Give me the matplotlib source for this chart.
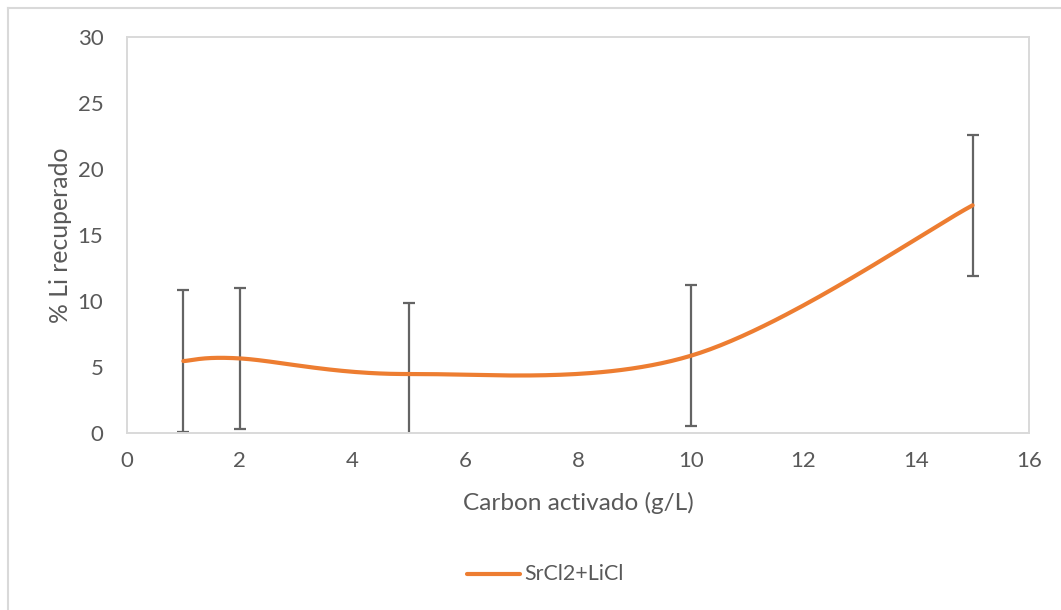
import numpy as np
import matplotlib
matplotlib.use("Agg")
import matplotlib.pyplot as plt
from matplotlib.lines import Line2D

# Data
carbon = [1, 2, 5, 10, 15]
li_recovered = [5.45, 5.65, 4.47, 5.85, 17.25]
error = [5.35, 5.35, 5.35, 5.35, 5.35]
series_name = "SrCl2+LiCl"
x_ticks = [0, 2, 4, 6, 8, 10, 12, 14, 16]
y_ticks = [0, 5, 10, 15, 20, 25, 30]

plt.rcParams['font.family'] = ['Lato', 'DejaVu Sans']
TXT = '#595959'
W, H = 1061, 610
fig = plt.figure(figsize=(W / 100, H / 100), dpi=100)
ax = fig.add_axes([127 / W, 1 - 433 / H, (1029 - 127) / W, (433 - 37) / H])


def excel_smooth(xs, ys, n=60):
    P = np.column_stack([xs, ys]).astype(float)
    P = np.vstack([P[0], P, P[-1]])
    out = []
    for i in range(1, len(P) - 2):
        p0, p1, p2, p3 = P[i - 1], P[i], P[i + 1], P[i + 2]
        c1 = p1 + (p2 - p0) / 6
        c2 = p2 - (p3 - p1) / 6
        t = np.linspace(0, 1, n)[:, None]
        seg = ((1 - t) ** 3) * p1 + 3 * ((1 - t) ** 2) * t * c1 + 3 * (1 - t) * t ** 2 * c2 + t ** 3 * p2
        out.append(seg if i == 1 else seg[1:])
    out = np.vstack(out)
    return out[:, 0], out[:, 1]


sx, sy = excel_smooth(carbon, li_recovered)
ax.errorbar(carbon, li_recovered, yerr=error, fmt='none', ecolor='#646464',
            elinewidth=1.6, capsize=4.3, capthick=1.6, zorder=2)
ax.plot(sx, sy, color='#ED7D31', lw=3.0, solid_capstyle='round', zorder=3, label=series_name)

ax.set_xlim(0, 16)
ax.set_ylim(0, 30)
ax.set_xticks(x_ticks)
ax.set_yticks(y_ticks)
ax.tick_params(length=0, labelsize=16, colors=TXT)
ax.tick_params(axis='x', pad=13)
ax.tick_params(axis='y', pad=17)
for s in ax.spines.values():
    s.set_color('#D9D9D9')
    s.set_linewidth(1.4)

fig.text(578 / W, 1 - 503 / H, "Carbon activado (g/L)", ha='center', va='center', fontsize=17.6, color=TXT)
fig.text(60 / W, 1 - 235 / H, "% Li recuperado", ha='center', va='center', rotation=90, fontsize=17.8, color=TXT)

# legend
fig.add_artist(Line2D([467 / W, 520 / W], [1 - 574 / H] * 2, color='#ED7D31', lw=3.0,
                      transform=fig.transFigure, solid_capstyle='round'))
fig.text(524 / W, 1 - 574 / H, series_name, ha='left', va='center', fontsize=15.4, color=TXT)

# outer chart border
fig.add_artist(Line2D([7.5 / W, 7.5 / W], [0, 1 - 7.5 / H], color='#D9D9D9', lw=1.5, transform=fig.transFigure))
fig.add_artist(Line2D([7.5 / W, 1], [1 - 7.5 / H] * 2, color='#D9D9D9', lw=1.5, transform=fig.transFigure))

fig.savefig("out.png", dpi=100)
